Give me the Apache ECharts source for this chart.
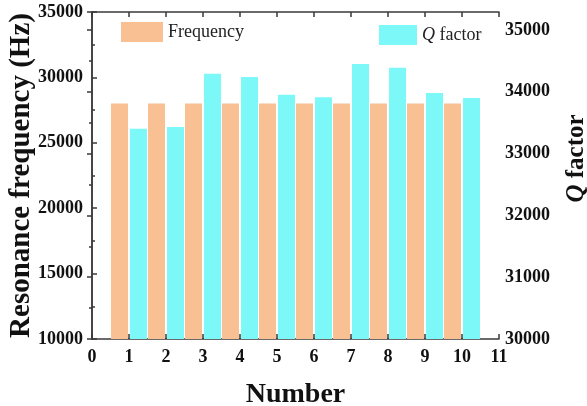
<!DOCTYPE html>
<html>
<head>
<meta charset="utf-8">
<script src="https://cdn.jsdelivr.net/npm/echarts@6/dist/echarts.min.js"></script>
<style>
  html, body { margin: 0; padding: 0; background: #fff; }
  #chart { width: 587px; height: 406px; }
</style>
</head>
<body>
<div id="chart"></div>
<script>
const numbers = [1, 2, 3, 4, 5, 6, 7, 8, 9, 10];
const frequency = [28000, 28000, 28000, 28000, 28000, 28000, 28000, 28000, 28000, 28000];
const qFactor = [33400, 33430, 34290, 34240, 33950, 33910, 34450, 34390, 33980, 33900];

const FONT = "Liberation Serif";
const AXIS_COLOR = "#3a3a3a";

const chart = echarts.init(document.getElementById("chart"));

const tickLabel = {
  color: "#111",
  fontFamily: FONT,
  fontWeight: "bold",
  fontSize: 18,
};

chart.setOption({
  backgroundColor: "#fff",
  animation: false,
  grid: { left: 92, right: 88, top: 12, bottom: 67, containLabel: false, outerBoundsMode: "none" },
  legend: [
    {
      data: ["Frequency"],
      icon: "rect",
      left: 121,
      top: 22,
      padding: 0,
      itemWidth: 42,
      itemHeight: 20,
      itemGap: 4,
      textStyle: { fontFamily: FONT, fontSize: 18, color: "#222" },
    },
    {
      data: ["Q factor"],
      icon: "rect",
      left: 379,
      top: 25,
      padding: 0,
      itemWidth: 38,
      itemHeight: 20,
      textStyle: {
        fontFamily: FONT,
        fontSize: 18,
        color: "#222",
        rich: { i: { fontFamily: FONT, fontSize: 18, fontStyle: "italic", color: "#222" } },
      },
      formatter: () => "{i|Q} factor",
    },
  ],
  xAxis: [
    {
      type: "value",
      min: 0,
      max: 11,
      interval: 1,
      name: "Number",
      nameLocation: "middle",
      nameGap: 42,
      nameMoveOverlap: false,
      nameTextStyle: { fontFamily: FONT, fontWeight: "bold", fontSize: 28, color: "#111" },
      axisLine: { show: true, lineStyle: { color: AXIS_COLOR, width: 1.5 } },
      axisTick: { show: true, inside: true, length: 5, lineStyle: { color: AXIS_COLOR, width: 1.5 } },
      axisLabel: { ...tickLabel, margin: 9 },
      splitLine: { show: false },
    },
    {
      type: "value",
      position: "top",
      min: 0,
      max: 11,
      interval: 1,
      axisLine: { show: true, lineStyle: { color: AXIS_COLOR, width: 1.5 } },
      axisTick: { show: true, inside: true, length: 5, lineStyle: { color: AXIS_COLOR, width: 1.5 } },
      axisLabel: { show: false },
      splitLine: { show: false },
    },
  ],
  yAxis: [
    {
      type: "value",
      min: 10000,
      max: 35000,
      interval: 5000,
      name: "Resonance frequency (Hz)",
      nameLocation: "middle",
      nameGap: 56,
      nameRotate: 90,
      nameMoveOverlap: false,
      nameTextStyle: { fontFamily: FONT, fontWeight: "bold", fontSize: 29, color: "#111" },
      axisLine: { show: true, lineStyle: { color: AXIS_COLOR, width: 1.5 } },
      axisTick: { show: true, inside: true, length: 5, lineStyle: { color: AXIS_COLOR, width: 1.5 } },
      minorTick: { show: true, splitNumber: 2, length: 3, lineStyle: { color: AXIS_COLOR, width: 1.5 } },
      axisLabel: { ...tickLabel, margin: 9, formatter: (v) => String(v) },
      splitLine: { show: false },
    },
    {
      type: "value",
      position: "right",
      min: 30000,
      max: 35290,
      interval: 1000,
      name: "{i|Q} factor",
      nameLocation: "middle",
      nameGap: 65,
      nameRotate: 90,
      nameMoveOverlap: false,
      nameTextStyle: {
        fontFamily: FONT,
        fontWeight: "bold",
        fontSize: 25,
        color: "#111",
        padding: [0, 0, 0, 34],
        rich: {
          i: { fontFamily: FONT, fontWeight: "bold", fontStyle: "italic", fontSize: 25, color: "#111" },
        },
      },
      axisLine: { show: true, lineStyle: { color: AXIS_COLOR, width: 1.5 } },
      axisTick: { show: true, inside: true, length: 5, lineStyle: { color: AXIS_COLOR, width: 1.5 } },
      minorTick: { show: true, splitNumber: 2, length: 3, lineStyle: { color: AXIS_COLOR, width: 1.5 } },
      axisLabel: {
        ...tickLabel,
        margin: 6,
        showMaxLabel: false,
        formatter: (v) => (v % 1000 === 0 ? String(v) : ""),
      },
      splitLine: { show: false },
    },
  ],
  series: [
    {
      name: "Frequency",
      type: "bar",
      xAxisIndex: 0,
      yAxisIndex: 0,
      data: numbers.map((n, i) => [n, frequency[i]]),
      barWidth: 17,
      barGap: "12%",
      itemStyle: { color: "#F8C093" },
    },
    {
      name: "Q factor",
      type: "bar",
      xAxisIndex: 0,
      yAxisIndex: 1,
      data: numbers.map((n, i) => [n, qFactor[i]]),
      barWidth: 17,
      barGap: "12%",
      itemStyle: { color: "#7DF8F8" },
    },
  ],
});
</script>
</body>
</html>
